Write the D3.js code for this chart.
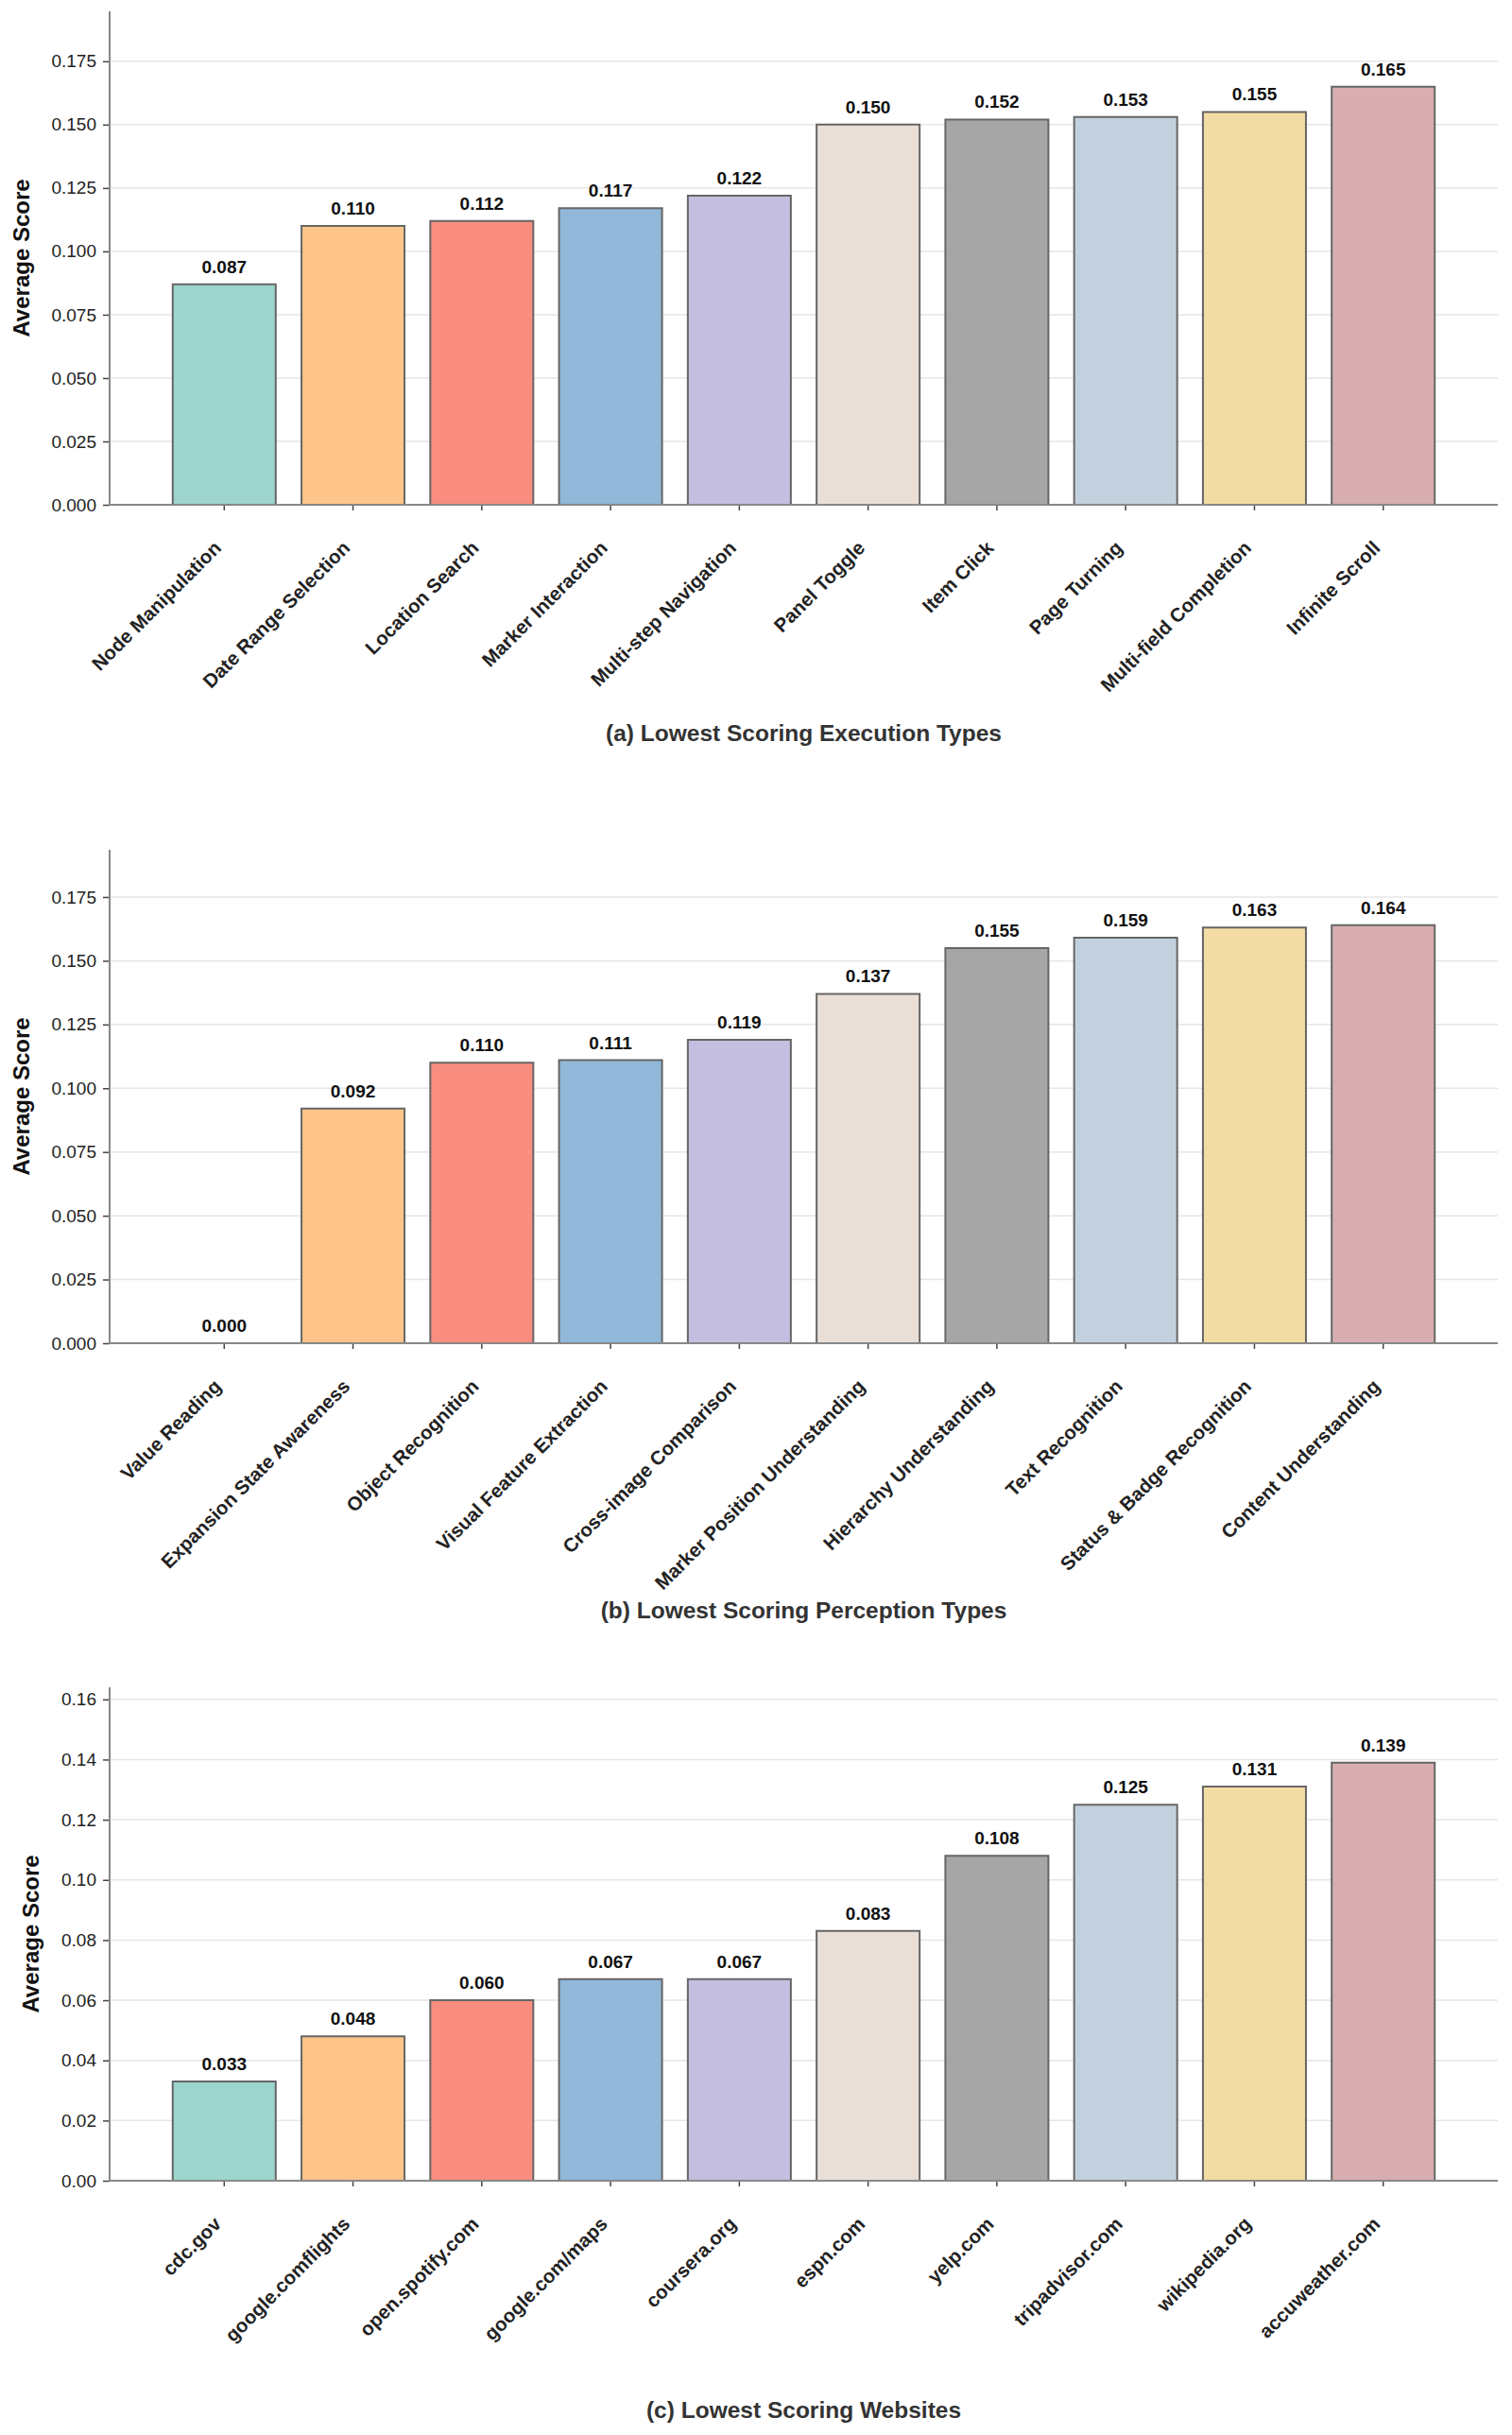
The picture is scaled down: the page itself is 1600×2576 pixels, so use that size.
<!doctype html>
<html>
<head>
    <meta charset="UTF-8">
    <title>Lowest scoring types</title>
    <script src="https://d3js.org/d3.v7.min.js"></script>
    <style>
        body { margin: 0; background: #fff; }
        text { font-family: "Liberation Sans", Arial, sans-serif; }
    </style>
</head>
<body>
    <script>
        // ---- data ----
        var execTypes = ["Node Manipulation", "Date Range Selection", "Location Search", "Marker Interaction",
            "Multi-step Navigation", "Panel Toggle", "Item Click", "Page Turning", "Multi-field Completion", "Infinite Scroll"];
        var execScores = [0.087, 0.110, 0.112, 0.117, 0.122, 0.150, 0.152, 0.153, 0.155, 0.165];

        var percTypes = ["Value Reading", "Expansion State Awareness", "Object Recognition", "Visual Feature Extraction",
            "Cross-image Comparison", "Marker Position Understanding", "Hierarchy Understanding", "Text Recognition",
            "Status & Badge Recognition", "Content Understanding"];
        var percScores = [0.000, 0.092, 0.110, 0.111, 0.119, 0.137, 0.155, 0.159, 0.163, 0.164];

        var sites = ["cdc.gov", "google.comflights", "open.spotify.com", "google.com/maps", "coursera.org",
            "espn.com", "yelp.com", "tripadvisor.com", "wikipedia.org", "accuweather.com"];
        var siteScores = [0.033, 0.048, 0.060, 0.067, 0.067, 0.083, 0.108, 0.125, 0.131, 0.139];

        var ticks3 = [0, 0.025, 0.05, 0.075, 0.1, 0.125, 0.15, 0.175];
        var ticks2 = [0, 0.02, 0.04, 0.06, 0.08, 0.1, 0.12, 0.14, 0.16];

        var titles = ["(a) Lowest Scoring Execution Types", "(b) Lowest Scoring Perception Types", "(c) Lowest Scoring Websites"];

        var colors = ["#9dd5ce", "#fec58a", "#f98e80", "#91b8d9", "#c4bfe0",
                      "#eadfd6", "#a6a6a6", "#c3d1de", "#f3dca3", "#d8aeb0"];

        // ---- layout ----
        var W = 1600, H = 2576;
        var left = 116, right = 1585, plotH = 522;

        var svg = d3.select("body").append("svg")
            .attr("width", W)
            .attr("height", H);

        var panels = [
            {cats: execTypes, vals: execScores, ticks: ticks3, fmt: ".3f", top: 12,   titleY: 784},
            {cats: percTypes, vals: percScores, ticks: ticks3, fmt: ".3f", top: 899,  titleY: 1712},
            {cats: sites,     vals: siteScores, ticks: ticks2, fmt: ".2f", top: 1785, titleY: 2558}
        ];

        panels.forEach(function(p, k){
            var bottom = p.top + plotH;
            var g = svg.append("g");

            var x = d3.scaleBand()
                .domain(p.cats)
                .range([left, right])
                .paddingInner(0.2)
                .paddingOuter(0.49);

            var y = d3.scaleLinear()
                .domain([0, d3.max(p.vals) * 1.18])
                .range([bottom, p.top]);

            // grid
            g.selectAll("line.grid").data(p.ticks).enter().append("line")
                .attr("x1", left).attr("x2", right)
                .attr("y1", function(d){ return y(d); })
                .attr("y2", function(d){ return y(d); })
                .attr("stroke", "#e6e6e6")
                .attr("stroke-width", 1.5);

            // bars (path so zero-height bar still shows its edge)
            g.selectAll("path.bar").data(p.vals).enter().append("path")
                .attr("d", function(d, i){
                    var x0 = x(p.cats[i]), w = x.bandwidth(), y0 = y(d);
                    return "M" + x0 + "," + bottom + "V" + y0 + "H" + (x0 + w) + "V" + bottom + "Z";
                })
                .attr("fill", function(d, i){ return colors[i]; })
                .attr("stroke", "#666")
                .attr("stroke-width", 2);

            // value labels
            g.selectAll("text.val").data(p.vals).enter().append("text")
                .attr("x", function(d, i){ return x(p.cats[i]) + x.bandwidth() / 2; })
                .attr("y", function(d){ return y(d) - 12; })
                .attr("text-anchor", "middle")
                .attr("font-size", 19)
                .attr("font-weight", "bold")
                .attr("fill", "#111")
                .text(function(d){ return d3.format(".3f")(d); });

            // y axis
            var yAxis = g.append("g")
                .attr("transform", "translate(" + left + ",0)")
                .call(d3.axisLeft(y).tickValues(p.ticks).tickFormat(d3.format(p.fmt)).tickSize(7).tickPadding(7));
            yAxis.select(".domain").remove();
            yAxis.selectAll(".tick line").attr("stroke", "#444").attr("stroke-width", 1.5);
            yAxis.selectAll(".tick text").attr("font-size", 19).attr("fill", "#222")
                .attr("font-family", "Liberation Sans, Arial, sans-serif");

            // x axis
            var xAxis = g.append("g")
                .attr("transform", "translate(0," + bottom + ")")
                .call(d3.axisBottom(x).tickSize(6).tickSizeOuter(0));
            xAxis.select(".domain").remove();
            xAxis.selectAll(".tick line").attr("stroke", "#444").attr("stroke-width", 1.5);
            xAxis.selectAll(".tick text")
                .attr("font-size", 20.5)
                .attr("font-weight", "bold")
                .attr("font-family", "Liberation Sans, Arial, sans-serif")
                .attr("fill", "#222")
                .attr("text-anchor", "end")
                .attr("x", -2).attr("y", 47).attr("dy", 0)
                .attr("transform", "rotate(-45,-2,47)");

            // spines
            g.append("line")
                .attr("x1", left).attr("x2", left)
                .attr("y1", p.top).attr("y2", bottom + 1)
                .attr("stroke", "#888").attr("stroke-width", 2);
            g.append("line")
                .attr("x1", left - 1).attr("x2", right)
                .attr("y1", bottom).attr("y2", bottom)
                .attr("stroke", "#888").attr("stroke-width", 2);

            // y label, placed left of the tick labels (bbox is in the axis group's own space)
            var bb = yAxis.node().getBBox();
            g.append("text")
                .attr("transform", "translate(" + (left + bb.x - 32) + "," + (p.top + plotH / 2) + ") rotate(-90)")
                .attr("text-anchor", "middle")
                .attr("dy", "0.35em")
                .attr("font-size", 24)
                .attr("font-weight", "bold")
                .attr("fill", "#111")
                .text("Average Score");

            // panel title
            g.append("text")
                .attr("x", (left + right) / 2)
                .attr("y", p.titleY)
                .attr("text-anchor", "middle")
                .attr("font-size", 24.5)
                .attr("font-weight", "bold")
                .attr("fill", "#333")
                .text(titles[k]);
        });
    </script>
</body>
</html>
